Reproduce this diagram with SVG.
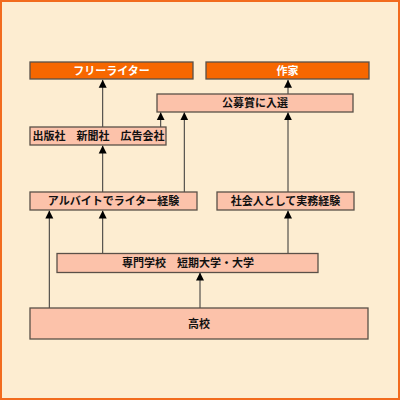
<svg xmlns="http://www.w3.org/2000/svg" width="400" height="400" viewBox="0 0 400 400">
<style>
.bx{fill:#FCC2AA;stroke:#5a5048;stroke-width:1.3}
.or{fill:#F76700;stroke:#5a5048;stroke-width:1.3}
.t{font-family:"Noto Sans CJK JP","Noto Sans",sans-serif;font-size:11px;font-weight:bold;text-anchor:middle;fill:#111}
.tw{fill:#fff}
.ln{stroke:#333;stroke-width:1;fill:none;marker-end:url(#ah)}
</style>
<defs>
<marker id="ah" markerUnits="userSpaceOnUse" markerWidth="8" markerHeight="9" refX="8" refY="4" orient="auto" viewBox="0 0 8 8">
<path d="M0,0 L8,4 L0,8 z" fill="#000"/>
</marker>
</defs>
<rect x="1" y="1" width="398" height="398" fill="#FDEDD1" stroke="#F26B1D" stroke-width="2"/>
<g id="connectors">
<path class="ln" d="M102.7,127 V79.8"/>
<path class="ln" d="M102.7,192 V145.5"/>
<path class="ln" d="M160.7,127 V112.3"/>
<path class="ln" d="M184.3,192 V112.3"/>
<path class="ln" d="M288,94 V79.8"/>
<path class="ln" d="M288,192 V112.3"/>
<path class="ln" d="M49.3,308 V210.5"/>
<path class="ln" d="M102.7,253 V210.5"/>
<path class="ln" d="M200,308 V272.5"/>
<path class="ln" d="M288,253 V210.5"/>
</g>
<g id="freewriter"><rect class="or" x="30" y="62" width="163" height="17"/><text class="t tw" x="111.5" y="74.5">フリーライター</text></g>
<g id="sakka"><rect class="or" x="206" y="62" width="163" height="17"/><text class="t tw" x="287.5" y="74.5">作家</text></g>
<g id="koubo"><rect class="bx" x="157" y="94" width="196" height="18"/><text class="t" x="255" y="107">公募賞に入選</text></g>
<g id="shuppan"><rect class="bx" x="30" y="127" width="136" height="18"/><text class="t" x="98.5" y="140">出版社　新聞社　広告会社</text></g>
<g id="arubaito"><rect class="bx" x="30" y="192" width="167" height="18"/><text class="t" x="113.5" y="205">アルバイトでライター経験</text></g>
<g id="shakaijin"><rect class="bx" x="217" y="192" width="137" height="18"/><text class="t" x="285.5" y="205">社会人として実務経験</text></g>
<g id="senmon"><rect class="bx" x="57" y="253.5" width="261" height="19"/><text class="t" x="188" y="267">専門学校　短期大学・大学</text></g>
<g id="koukou"><rect class="bx" x="30" y="308" width="338" height="31"/><text class="t" x="199" y="327.5">高校</text></g>
</svg>
